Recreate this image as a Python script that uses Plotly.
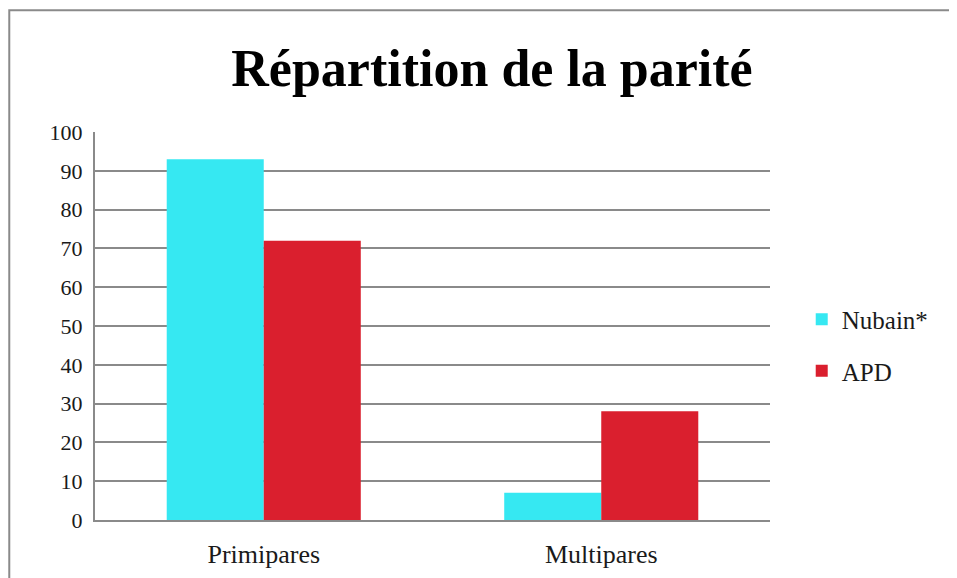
import plotly.graph_objects as go

categories = ["Primipares", "Multipares"]
nubain = [93, 7]
apd = [72, 28]
y_ticks = [0, 10, 20, 30, 40, 50, 60, 70, 80, 90, 100]

serif = "Liberation Serif, DejaVu Serif, serif"
grid = "#8a8a8a"

fig = go.Figure()
fig.add_trace(go.Bar(x=categories, y=nubain, name="Nubain*", marker=dict(color="#36E8F2", line=dict(width=0)), legendgroup="a"))
fig.add_trace(go.Bar(x=categories, y=apd, name="APD", marker=dict(color="#DA1F2E", line=dict(width=0)), legendgroup="b"))

# page body has an 8px margin, so the figure is drawn 8px smaller and the margins shifted
fig.update_layout(
    width=949, height=570,
    margin=dict(l=87, r=187, t=124, b=58),
    paper_bgcolor="white", plot_bgcolor="white",
    barmode="group", bargap=0.425, bargroupgap=0,
    title=dict(text="<b>Répartition de la parité</b>", x=0.51, xanchor="center", y=0.895, yanchor="middle",
               font=dict(family=serif, size=52, color="black")),
    font=dict(family=serif, size=22, color="#1a1a1a"),
    legend=dict(x=1.047, xanchor="left", y=0.451, yanchor="middle", tracegroupgap=16,
                font=dict(family=serif, size=25, color="#1a1a1a"), itemwidth=30),
    showlegend=True,
)
fig.update_yaxes(range=[0, 100], tickvals=y_ticks, showgrid=True, gridcolor=grid, gridwidth=2,
                 showline=True, linecolor=grid, linewidth=2, zeroline=False, ticks="",
                 ticklabelstandoff=6, tickfont=dict(size=22), automargin=False)
fig.update_xaxes(showline=True, linecolor=grid, linewidth=2, ticks="", ticklabelstandoff=10,
                 tickfont=dict(size=26), automargin=False)

fig.add_shape(type="rect", xref="paper", yref="paper", x0=-0.127, x1=1.2667, y0=-0.2, y1=1.314,
              line=dict(color="#8a8a8a", width=2), fillcolor="rgba(0,0,0,0)", layer="below")

fig.write_html("out.html")
